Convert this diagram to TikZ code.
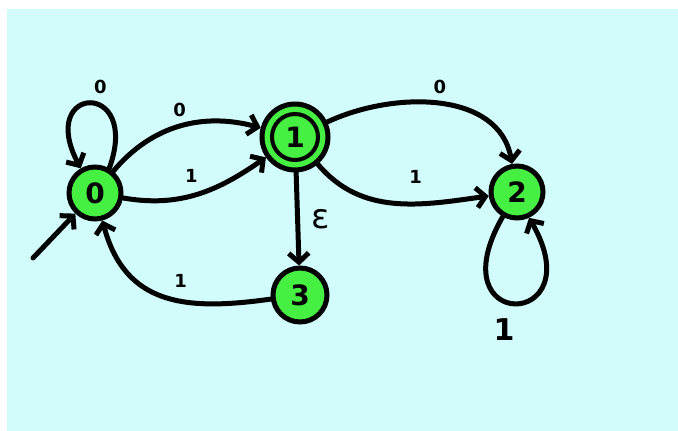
\documentclass[tikz,border=0pt]{standalone}
\usepackage{fontspec}
\setmainfont{DejaVu Sans}
\usetikzlibrary{arrows.meta}
\definecolor{bgcyan}{RGB}{210,252,252}
\definecolor{stgreen}{RGB}{70,240,66}
\begin{document}
\begin{tikzpicture}[x=1pt,y=1pt,line width=5pt,line cap=round,
    font=\bfseries,
    state/.style={circle,draw,fill=stgreen,minimum size=52pt,inner sep=0pt,font=\bfseries\fontsize{28}{28}\selectfont},
    trans/.style={-{Straight Barb[length=9pt,width=20pt]}},
    lbl/.style={font=\bfseries\fontsize{18}{18}\selectfont}]
                \useasboundingbox (0,0) rectangle (678,431);
                \fill[bgcyan] (7,0) rectangle (678,422);
                \node[state] (s0) at (95,238) {0};
                \node[state,minimum size=66pt] (s1) at (295,294) {1};
                \node[state] (s2) at (517,239) {2};
                \node[state,minimum size=54pt] (s3) at (300,136) {3};
                \draw[line width=4pt] (s1) circle[radius=23];
                \coordinate (start) at (33,173);
                \draw[trans] (start) -- (s0);
                \draw[trans] (s0.60) .. controls +(70:95) and +(118:95) .. node[lbl,pos=0.4,above=6pt] {0} (s0.120);
                \draw[trans] (s0) to[out=50,in=165] node[lbl,above=4pt] {0} (s1);
                \draw[trans] (s0) to[out=-10,in=215] node[lbl,pos=0.45,above=8pt] {1} (s1);
                \draw[trans] (s1) -- node[right=8pt,font=\fontsize{34}{34}\selectfont] {ε} (s3);
                \draw[trans] (s3) to[out=188,in=-75,looseness=1.2] node[lbl,pos=0.4,above=8pt] {1} (s0);
                \draw[trans] (s1) to[out=25,in=100] node[lbl,above=4pt] {0} (s2);
                \draw[trans] (s1) to[out=-50,in=188] node[lbl,pos=0.62,above=14pt] {1} (s2);
                \draw[trans] (s2.240) .. controls +(240:135) and +(300:130) .. node[pos=0.42,below=12pt,font=\bfseries\fontsize{30}{30}\selectfont] {1} (s2.295);
            \end{tikzpicture}
\end{document}
